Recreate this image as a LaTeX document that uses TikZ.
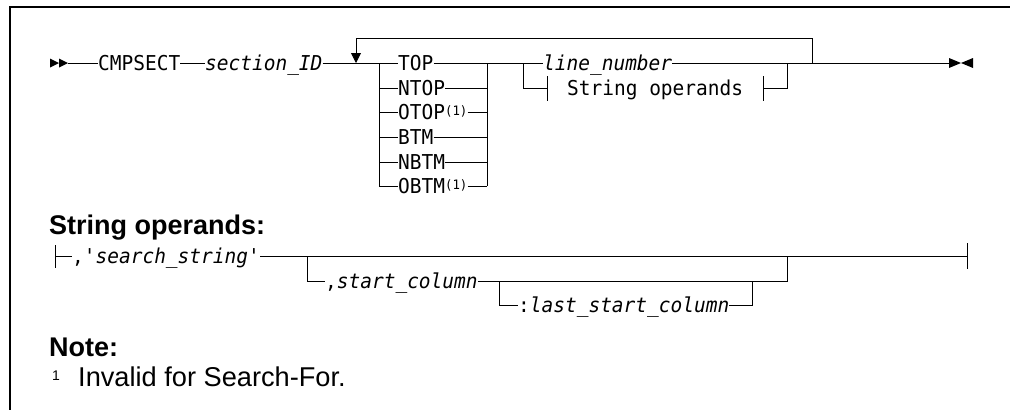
\documentclass[tikz,border=0pt]{standalone}
\usepackage{fontspec}
\setmainfont{Liberation Sans}
\setmonofont[FakeStretch=0.95]{DejaVu Sans Mono}
\usetikzlibrary{arrows.meta}

\begin{document}
\begin{tikzpicture}[x=1pt,y=-1pt,
		rail/.style={line width=0.9pt},
		kw/.style={font=\fontsize{20.5}{24}\ttfamily, inner sep=0pt, text height=15pt, text depth=0pt, anchor=west},
		var/.style={kw, font=\fontsize{20.5}{24}\ttfamily\itshape},
		head/.style={font=\fontsize{27}{30}\selectfont\bfseries, inner sep=0pt, anchor=base west},
		note/.style={font=\fontsize{27.2}{30}\selectfont, inner sep=0pt, anchor=base west}]
		\def\fnref{{\fontsize{13}{14}\selectfont\upshape\raisebox{4pt}{(1)}}}
		
		\useasboundingbox (0,0) rectangle (1010,410);
		
		% Frame (top and left)
		\draw[line width=1.2pt] (1010,7) -- (10,7) -- (10,410);
		
		% Main line
		\fill (50,58.5) -- (59,63) -- (50,67.5) -- cycle;
		\fill (59,58.5) -- (68,63) -- (59,67.5) -- cycle;
		\coordinate (in) at (68,63);
		\node[kw] (cmd) at (98,63) {CMPSECT};
		\node[var] (sec) at (205,63) {section\_ID};
		\coordinate (loopL) at (356,63);
		\coordinate (g1L) at (379,63);
		\coordinate (g1R) at (487,63);
		\coordinate (g2L) at (523,63);
		\coordinate (g2R) at (787,63);
		\coordinate (loopR) at (812,63);
		\coordinate (out) at (949,63);
		\node[var] (lnum) at (543,63) {line\_number};
		
		\draw[rail] (in) -- (cmd.west);
		\draw[rail] (cmd.east) -- (sec.west);
		\draw[rail] (sec.east) -- (g1L);
		\draw[rail] (g1R) -- (g2L);
		\draw[rail] (g2L) -- (lnum.west);
		\draw[rail] (lnum.east) -- (out);
		
		% Repeat loop
		\draw[rail, -{Triangle[length=10pt,width=10pt]}] (loopR) -- ++(0,-25) -| (loopL);
		
		% Choice stack
		\foreach \y/\name/\txt in {63/top/TOP, 88/ntop/NTOP, 112/otop/OTOP\fnref, 137/btm/BTM, 162/nbtm/NBTM, 186/obtm/OBTM\fnref} {
			\node[kw] (\name) at (398,\y) {\txt};
			\draw[rail] (\name.west -| g1L) -- (\name.west);
			\draw[rail] (\name.east) -- (\name.east -| g1R);
		}
		\draw[rail] (g1L) -- (g1L |- obtm.west);
		\draw[rail] (g1R) -- (g1R |- obtm.east);
		
		% Fragment reference
		\node[kw] (sref) at (567,88) {String operands};
		\coordinate (srefL) at (547,88);
		\coordinate (srefR) at (763,88);
		\draw[rail] (g2L) |- (srefL);
		\draw[rail] ([yshift=12pt]srefL) -- ([yshift=-13pt]srefL);
		\draw[rail] ([yshift=12pt]srefR) -- ([yshift=-13pt]srefR);
		\draw[rail] (srefR) -| (g2R);
		
		% End marker
		\fill (949,58) -- (961,63) -- (949,68) -- cycle;
		\fill (973,58) -- (961,63) -- (973,68) -- cycle;
		
		% String operands fragment
		\node[head] (sohead) at (49,234) {String operands:};
		\coordinate (sL) at (55,256);
		\coordinate (sR) at (967,256);
		\draw[rail] ([yshift=11pt]sL) -- ([yshift=-12pt]sL);
		\draw[rail] ([yshift=13pt]sR) -- ([yshift=-13pt]sR);
		\node[kw] (sstr) at (72,256) {,'\textit{search\_string}'};
		\draw[rail] (sL) -- (sstr.west);
		\draw[rail] (sstr.east) -- (sR);
		
		\coordinate (o1L) at (307,256);
		\coordinate (o1R) at (787,256);
		\coordinate (o2L) at (499,281);
		\coordinate (o2R) at (752,281);
		\node[kw] (scol) at (325,281) {,\textit{start\_column}};
		\node[kw] (lcol) at (518,305) {:\textit{last\_start\_column}};
		\draw[rail] (o1L) |- (scol.west);
		\draw[rail] (scol.east) -| (o1R);
		\draw[rail] (o2L) |- (lcol.west);
		\draw[rail] (lcol.east) -| (o2R);
		
		% Note
		\node[head] (notehead) at (49,356) {Note:};
		\node[inner sep=0pt, anchor=base west, font=\fontsize{14}{16}\selectfont] (fnmark) at (52,380) {1};
		\node[note] (fntext) at (78,386) {Invalid for Search-For.};
		
	\end{tikzpicture}
\end{document}
